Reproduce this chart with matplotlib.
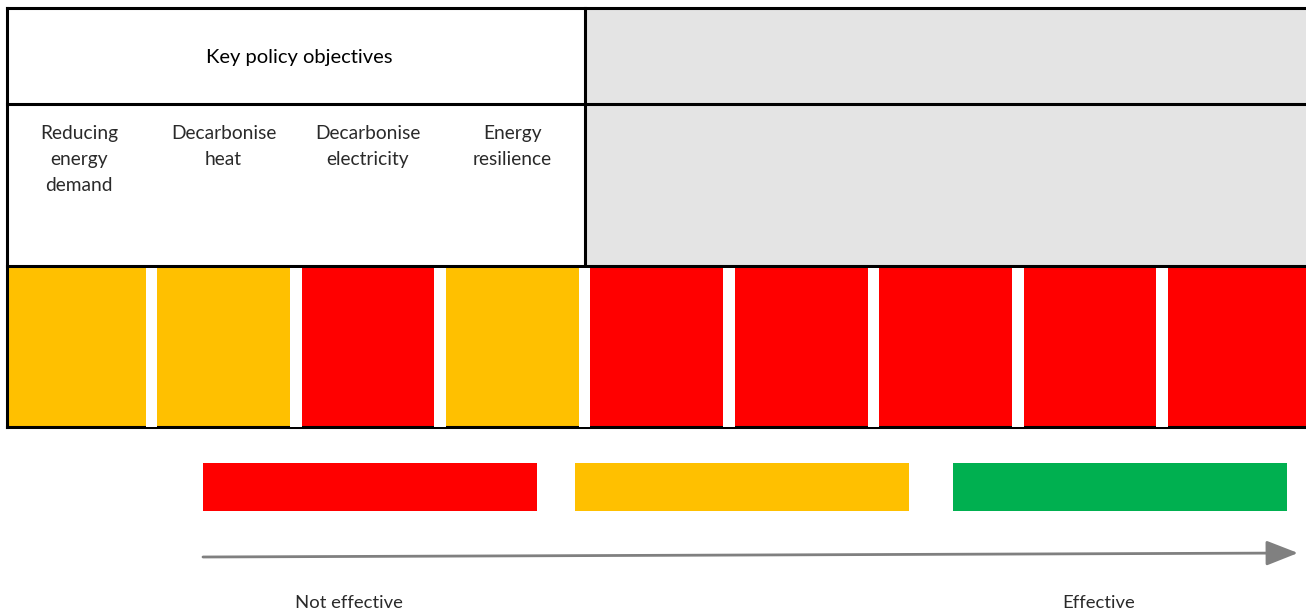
import matplotlib
matplotlib.use("Agg")
import matplotlib.pyplot as plt
from matplotlib.patches import Rectangle, FancyArrowPatch

# ---- data ----
header_title = "Key policy objectives"
objective_labels = ["Reducing\nenergy\ndemand", "Decarbonise\nheat", "Decarbonise\nelectricity", "Energy\nresilience"]
n_columns = 9
ratings = ["amber", "amber", "red", "amber", "red", "red", "red", "red", "red"]
scale_levels = ["red", "amber", "green"]
scale_left_label = "Not effective"
scale_right_label = "Effective"

colors = {"red": "#FF0000", "amber": "#FFC000", "green": "#00B050"}

W, H = 1306, 611
fig = plt.figure(figsize=(W / 100, H / 100), dpi=100)
ax = fig.add_axes([0, 0, 1, 1])
ax.set_xlim(0, W)
ax.set_ylim(H, 0)
ax.axis("off")

font = "Lato"
x0, x_end = 7, 1306.6
pitch = (x_end - x0) / n_columns
y_top, y_mid, y_row, y_bot = 8, 104, 266, 427
x_div = x0 + 4 * pitch

# grey region
ax.add_patch(Rectangle((x_div, y_top), W - x_div, y_row - y_top, facecolor="#E4E4E4", edgecolor="none", zorder=1))

# rating cells
for i, r in enumerate(ratings):
    ax.add_patch(Rectangle((x0 + i * pitch, y_row), pitch, y_bot - y_row, facecolor=colors[r], edgecolor="none", zorder=1))

# grid lines
lw = 2.2
for y in (y_top, y_mid, y_row, y_bot):
    ax.plot([x0, W], [y, y], color="black", lw=lw, zorder=3, solid_capstyle="projecting")
ax.plot([x0, x0], [y_top, y_bot], color="black", lw=lw, zorder=3)
ax.plot([x_div, x_div], [y_top, y_row], color="black", lw=lw, zorder=3)

# white gaps between rating cells
gap = 11.5
for i in range(1, n_columns):
    xb = x0 + i * pitch
    ax.add_patch(Rectangle((xb - gap / 2, y_row + 1.5), gap, y_bot - y_row - 1.5, facecolor="white", edgecolor="none", zorder=4))

# texts
ax.text(x_div / 2 + x0 / 2 + 3, 57, header_title, ha="center", va="center", fontsize=14.5, family=font,
        color="black", path_effects=None)
for i, lab in enumerate(objective_labels):
    ax.text(x0 + (i + 0.5) * pitch, 125, lab, ha="center", va="top", fontsize=13.8, family=font,
            color="#2a2a2a", linespacing=1.63)

# scale bars
bar_x = [203, 575, 953]
bar_w = 334
for bx, lvl in zip(bar_x, scale_levels):
    ax.add_patch(Rectangle((bx, 463), bar_w, 48, facecolor=colors[lvl], edgecolor="none"))

# arrow
arr = FancyArrowPatch((203, 557), (1298, 553), arrowstyle="-|>,head_length=1.4,head_width=0.55",
                      mutation_scale=14, color="#808080", lw=2, shrinkA=0, shrinkB=0)
ax.add_patch(arr)

ax.text(349, 603, scale_left_label, ha="center", va="center", fontsize=13.3, family=font, color="#2a2a2a")
ax.text(1099, 603, scale_right_label, ha="center", va="center", fontsize=13.3, family=font, color="#2a2a2a")

fig.savefig("out.png", dpi=100)
